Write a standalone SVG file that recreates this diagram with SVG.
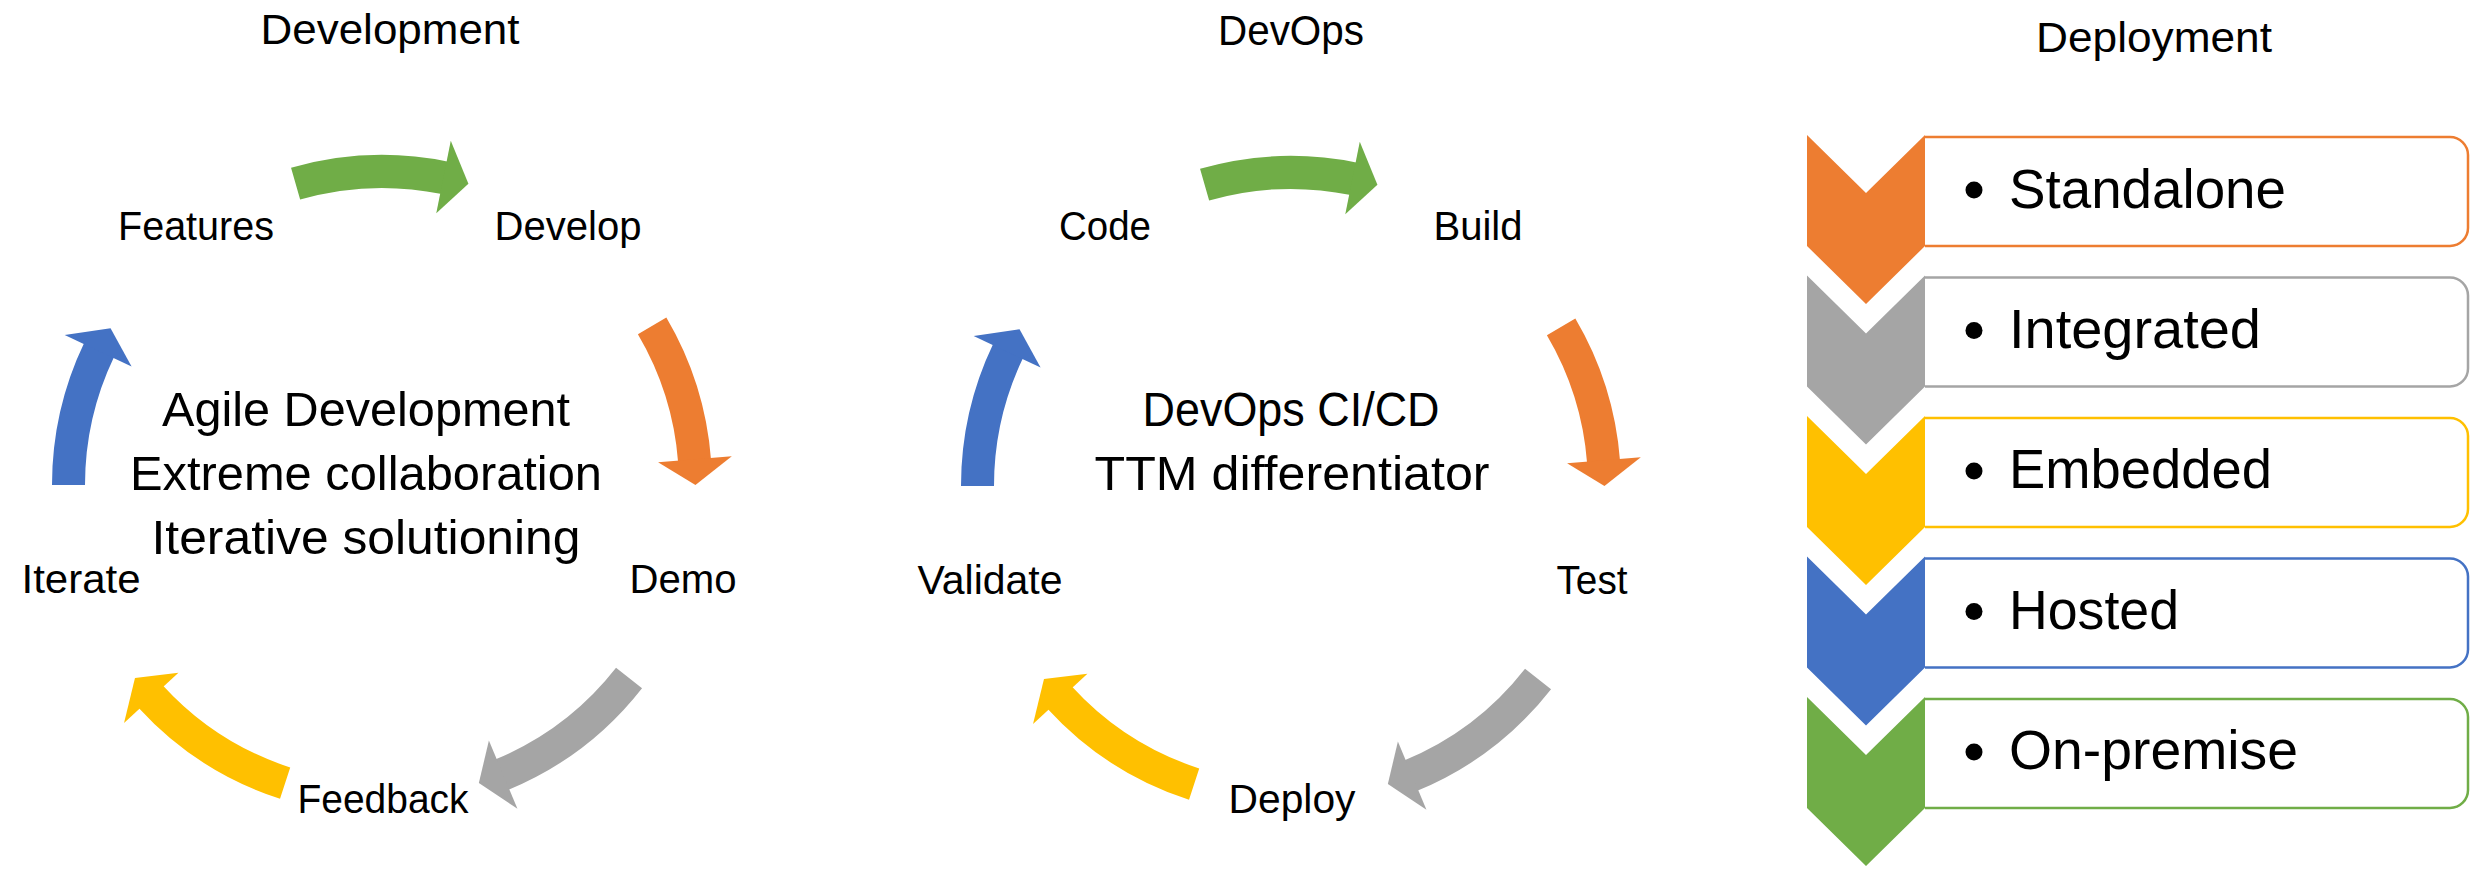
<svg xmlns="http://www.w3.org/2000/svg" width="2471" height="872" viewBox="0 0 2471 872">
<style>
text{font-family:"Liberation Sans",Arial,sans-serif;fill:#000}
.title{font-size:42px;text-anchor:middle}
.lbl{font-size:40px;text-anchor:middle}
.ctr{font-size:48px;text-anchor:middle}
.item{font-size:55px}
.band{fill:none;stroke-width:33}
.box{fill:#fff;stroke-width:2.5}
</style>
<defs>
<polygon id="head" points="0,-351 25.7,-312.4 0,-277"/>
</defs>
<rect width="2471" height="872" fill="#fff"/>

<g id="connectors">
 <g id="cycle-dev-arrows" transform="translate(382,485)">
  <g id="a-features-develop"><circle class="band" r="313.5" stroke="#70AD47" stroke-dasharray="151 2000" transform="rotate(-106)"/><use href="#head" fill="#70AD47" transform="rotate(11.3)"/></g>
  <g id="a-develop-demo"><circle class="band" r="313.5" stroke="#ED7D31" stroke-dasharray="143 2000" transform="rotate(-30.5)"/><use href="#head" fill="#ED7D31" transform="rotate(85.3)"/></g>
  <g id="a-demo-feedback"><circle class="band" r="313.5" stroke="#A5A5A5" stroke-dasharray="162 2000" transform="rotate(38)"/><use href="#head" fill="#A5A5A5" transform="rotate(157.3)"/></g>
  <g id="a-feedback-iterate"><circle class="band" r="313.5" stroke="#FFC000" stroke-dasharray="162 2000" transform="rotate(108)"/><use href="#head" fill="#FFC000" transform="rotate(227.3)"/></g>
  <g id="a-iterate-features"><circle class="band" r="313.5" stroke="#4472C4" stroke-dasharray="140 2000" transform="rotate(180)"/><use href="#head" fill="#4472C4" transform="rotate(295.3)"/></g>
 </g>
 <g id="cycle-devops-arrows" transform="translate(1291,486)">
  <g id="a-code-build"><circle class="band" r="313.5" stroke="#70AD47" stroke-dasharray="151 2000" transform="rotate(-106)"/><use href="#head" fill="#70AD47" transform="rotate(11.3)"/></g>
  <g id="a-build-test"><circle class="band" r="313.5" stroke="#ED7D31" stroke-dasharray="143 2000" transform="rotate(-30.5)"/><use href="#head" fill="#ED7D31" transform="rotate(85.3)"/></g>
  <g id="a-test-deploy"><circle class="band" r="313.5" stroke="#A5A5A5" stroke-dasharray="162 2000" transform="rotate(38)"/><use href="#head" fill="#A5A5A5" transform="rotate(157.3)"/></g>
  <g id="a-deploy-validate"><circle class="band" r="313.5" stroke="#FFC000" stroke-dasharray="162 2000" transform="rotate(108)"/><use href="#head" fill="#FFC000" transform="rotate(227.3)"/></g>
  <g id="a-validate-code"><circle class="band" r="313.5" stroke="#4472C4" stroke-dasharray="140 2000" transform="rotate(180)"/><use href="#head" fill="#4472C4" transform="rotate(295.3)"/></g>
 </g>
</g>

<g id="titles">
 <text class="title" x="390" y="44" textLength="259" lengthAdjust="spacingAndGlyphs">Development</text>
 <text class="title" x="1291" y="45" textLength="146" lengthAdjust="spacingAndGlyphs">DevOps</text>
 <text class="title" x="2154" y="52" textLength="236" lengthAdjust="spacingAndGlyphs">Deployment</text>
</g>

<g id="node-features"><text class="lbl" x="196" y="240" textLength="156" lengthAdjust="spacingAndGlyphs">Features</text></g>
<g id="node-develop"><text class="lbl" x="568" y="240" textLength="147" lengthAdjust="spacingAndGlyphs">Develop</text></g>
<g id="node-demo"><text class="lbl" x="683" y="593" textLength="107" lengthAdjust="spacingAndGlyphs">Demo</text></g>
<g id="node-feedback"><text class="lbl" x="383" y="813" textLength="171" lengthAdjust="spacingAndGlyphs">Feedback</text></g>
<g id="node-iterate"><text class="lbl" x="81" y="593" textLength="119" lengthAdjust="spacingAndGlyphs">Iterate</text></g>
<g id="node-agile-center">
 <text class="ctr" x="366" y="426" textLength="408" lengthAdjust="spacingAndGlyphs">Agile Development</text>
 <text class="ctr" x="366" y="490" textLength="472" lengthAdjust="spacingAndGlyphs">Extreme collaboration</text>
 <text class="ctr" x="366" y="554" textLength="429" lengthAdjust="spacingAndGlyphs">Iterative solutioning</text>
</g>

<g id="node-code"><text class="lbl" x="1105" y="240" textLength="92" lengthAdjust="spacingAndGlyphs">Code</text></g>
<g id="node-build"><text class="lbl" x="1478" y="240" textLength="89" lengthAdjust="spacingAndGlyphs">Build</text></g>
<g id="node-test"><text class="lbl" x="1592" y="594" textLength="71" lengthAdjust="spacingAndGlyphs">Test</text></g>
<g id="node-deploy"><text class="lbl" x="1292" y="813" textLength="127" lengthAdjust="spacingAndGlyphs">Deploy</text></g>
<g id="node-validate"><text class="lbl" x="990" y="594" textLength="145" lengthAdjust="spacingAndGlyphs">Validate</text></g>
<g id="node-devops-center">
 <text class="ctr" x="1291" y="426" textLength="297" lengthAdjust="spacingAndGlyphs">DevOps CI/CD</text>
 <text class="ctr" x="1292" y="490" textLength="395" lengthAdjust="spacingAndGlyphs">TTM differentiator</text>
</g>

<g id="node-standalone">
 <path class="box" stroke="#ED7D31" d="M1925,137 H2450 A18,18 0 0 1 2468,155 V228 A18,18 0 0 1 2450,246 H1925"/>
 <polygon fill="#ED7D31" points="1807,135 1866,193 1925,135 1925,246 1866,304 1807,246"/>
 <circle cx="1974" cy="190" r="8.5"/>
 <text class="item" x="2009" y="208" textLength="277" lengthAdjust="spacingAndGlyphs">Standalone</text>
</g>
<g id="node-integrated">
 <path class="box" stroke="#A5A5A5" d="M1925,277.5 H2450 A18,18 0 0 1 2468,295.5 V368.5 A18,18 0 0 1 2450,386.5 H1925"/>
 <polygon fill="#A5A5A5" points="1807,275.5 1866,333.5 1925,275.5 1925,386.5 1866,444.5 1807,386.5"/>
 <circle cx="1974" cy="330.5" r="8.5"/>
 <text class="item" x="2009" y="348" textLength="252" lengthAdjust="spacingAndGlyphs">Integrated</text>
</g>
<g id="node-embedded">
 <path class="box" stroke="#FFC000" d="M1925,418 H2450 A18,18 0 0 1 2468,436 V509 A18,18 0 0 1 2450,527 H1925"/>
 <polygon fill="#FFC000" points="1807,416 1866,474 1925,416 1925,527 1866,585 1807,527"/>
 <circle cx="1974" cy="471" r="8.5"/>
 <text class="item" x="2009" y="488" textLength="263" lengthAdjust="spacingAndGlyphs">Embedded</text>
</g>
<g id="node-hosted">
 <path class="box" stroke="#4472C4" d="M1925,558.5 H2450 A18,18 0 0 1 2468,576.5 V649.5 A18,18 0 0 1 2450,667.5 H1925"/>
 <polygon fill="#4472C4" points="1807,556.5 1866,614.5 1925,556.5 1925,667.5 1866,725.5 1807,667.5"/>
 <circle cx="1974" cy="611.5" r="8.5"/>
 <text class="item" x="2009" y="629" textLength="170" lengthAdjust="spacingAndGlyphs">Hosted</text>
</g>
<g id="node-on-premise">
 <path class="box" stroke="#70AD47" d="M1925,699 H2450 A18,18 0 0 1 2468,717 V790 A18,18 0 0 1 2450,808 H1925"/>
 <polygon fill="#70AD47" points="1807,697 1866,755 1925,697 1925,808 1866,866 1807,808"/>
 <circle cx="1974" cy="752" r="8.5"/>
 <text class="item" x="2009" y="769" textLength="289" lengthAdjust="spacingAndGlyphs">On-premise</text>
</g>
</svg>
